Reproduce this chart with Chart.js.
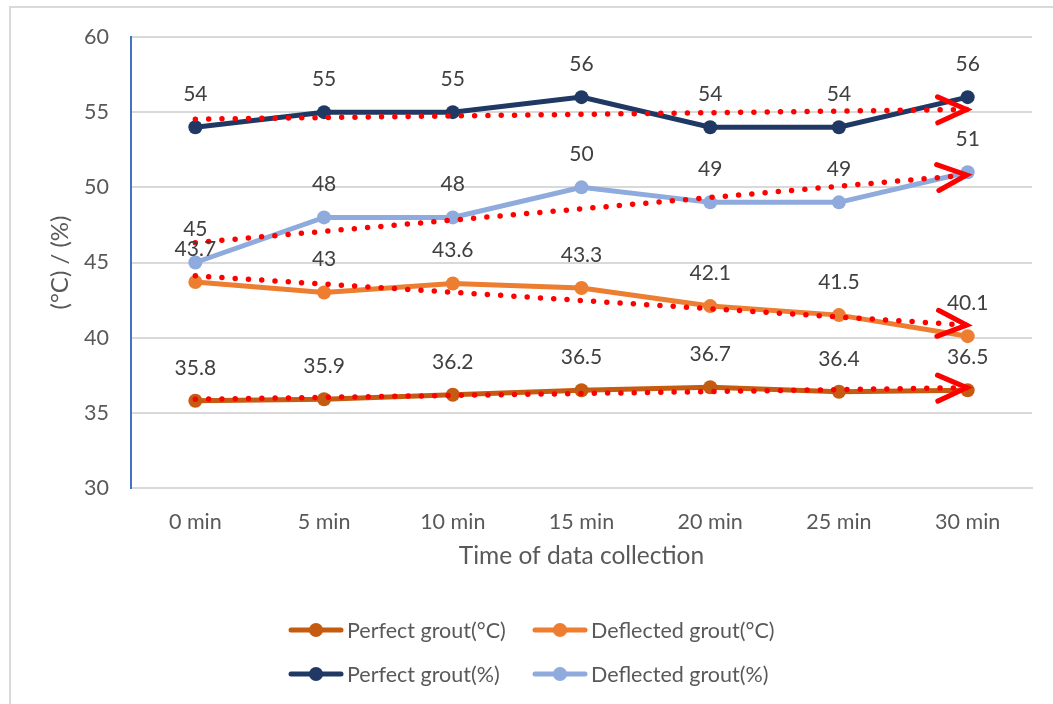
<!DOCTYPE html>
<html>
<head>
<meta charset="utf-8">
<script src="https://cdn.jsdelivr.net/npm/chart.js@4/dist/chart.umd.min.js"></script>
<style>
  html, body { margin: 0; padding: 0; background: #ffffff; }
  #wrap { position: relative; width: 1053px; height: 704px; overflow: hidden; background: #fff; }
  #frame { position: absolute; left: 9px; top: 6px; width: 1200px; height: 800px; border-left: 2px solid #D9D9D9; border-top: 2px solid #D9D9D9; }
  canvas { position: absolute; left: 0; top: 0; }
</style>
</head>
<body>
<div id="wrap">
  <div id="frame"></div>
  <canvas id="c" width="1053" height="704"></canvas>
</div>
<script>
const categories = ['0 min', '5 min', '10 min', '15 min', '20 min', '25 min', '30 min'];
const perfectTemp = [35.8, 35.9, 36.2, 36.5, 36.7, 36.4, 36.5];
const deflectedTemp = [43.7, 43, 43.6, 43.3, 42.1, 41.5, 40.1];
const perfectHum = [54, 55, 55, 56, 54, 54, 56];
const deflectedHum = [45, 48, 48, 50, 49, 49, 51];
const seriesNames = ['Perfect grout(°C)', 'Deflected grout(°C)', 'Perfect grout(%)', 'Deflected grout(%)'];
const seriesColors = ['#C55A11', '#ED7D31', '#1F3864', '#8FAADC'];
const yTicks = [30, 35, 40, 45, 50, 55, 60];

const FONT = 'Lato, "Open Sans", sans-serif';

// Linear trend (least squares) like Excel's linear trendline
function trend(arr) {
  const n = arr.length;
  let sx = 0, sy = 0, sxy = 0, sxx = 0;
  arr.forEach((y, x) => { sx += x; sy += y; sxy += x * y; sxx += x * x; });
  const b = (n * sxy - sx * sy) / (n * sxx - sx * sx);
  const a = (sy - b * sx) / n;
  return arr.map((_, i) => (i === 0 || i === n - 1) ? a + b * i : null);
}

const mainSeries = [perfectTemp, deflectedTemp, perfectHum, deflectedHum];

const datasets = mainSeries.map((d, i) => ({
  label: seriesNames[i],
  data: d,
  borderColor: seriesColors[i],
  backgroundColor: seriesColors[i],
  borderWidth: 5,
  pointRadius: 7,
  pointHoverRadius: 7,
  pointBorderWidth: 0,
  tension: 0,
  order: 1,
  isMain: true
}));
mainSeries.forEach((d, i) => {
  datasets.push({
    label: 'trend' + i,
    data: trend(d),
    spanGaps: true,
    borderColor: '#FF0000',
    borderWidth: 5.5,
    borderDash: [0, 13.3],
    borderCapStyle: 'round',
    pointRadius: 0,
    order: 0,
    isTrend: true
  });
});

const overlay = {
  id: 'overlay',
  afterDatasetsDraw(chart) {
    const ctx = chart.ctx;
    chart.data.datasets.forEach((ds, di) => {
      if (!ds.isTrend) return;
      const meta = chart.getDatasetMeta(di);
      const pts = meta.data;
      const p0 = pts[0], p1 = pts[pts.length - 1];
      const ang = Math.atan2(p1.y - p0.y, p1.x - p0.x);
      const L = 29, W = 13;
      const tipX = p1.x - 1, tipY = p1.y;
      ctx.save();
      ctx.strokeStyle = '#FF0000';
      ctx.lineWidth = 5;
      ctx.lineCap = 'round';
      ctx.lineJoin = 'miter';
      ctx.translate(tipX, tipY);
      ctx.rotate(ang);
      ctx.beginPath();
      ctx.moveTo(-L, -W);
      ctx.lineTo(0, 0);
      ctx.lineTo(-L, W);
      ctx.stroke();
      ctx.restore();
    });
    ctx.save();
    ctx.font = '21px ' + FONT;
    ctx.fillStyle = '#404040';
    ctx.textAlign = 'center';
    ctx.textBaseline = 'middle';
    chart.data.datasets.forEach((ds, di) => {
      if (!ds.isMain) return;
      const meta = chart.getDatasetMeta(di);
      meta.data.forEach((pt, j) => {
        ctx.fillText(String(ds.data[j]), pt.x, pt.y - 33);
      });
    });
    ctx.restore();
  },
  afterDraw(chart) {
    const ctx = chart.ctx;
    const cols = [289, 533];
    const rows = [630, 674];
    ctx.save();
    ctx.font = '21.5px ' + FONT;
    ctx.textBaseline = 'middle';
    ctx.textAlign = 'left';
    for (let i = 0; i < 4; i++) {
      const x = cols[i % 2], y = rows[Math.floor(i / 2)];
      ctx.strokeStyle = seriesColors[i];
      ctx.lineWidth = 5;
      ctx.lineCap = 'round';
      ctx.beginPath();
      ctx.moveTo(x + 2, y);
      ctx.lineTo(x + 52, y);
      ctx.stroke();
      ctx.fillStyle = seriesColors[i];
      ctx.beginPath();
      ctx.arc(x + 27, y, 7, 0, Math.PI * 2);
      ctx.fill();
      ctx.fillStyle = '#595959';
      ctx.fillText(seriesNames[i], x + 58, y + 1);
    }
    ctx.restore();
  }
};

new Chart(document.getElementById('c'), {
  type: 'line',
  data: { labels: categories, datasets },
  options: {
    responsive: false,
    animation: false,
    devicePixelRatio: 1,
    layout: { padding: { top: 37, right: 21, left: 0, bottom: 126 } },
    plugins: { legend: { display: false }, tooltip: { enabled: false } },
    scales: {
      x: {
        offset: true,
        grid: { display: false, drawTicks: false },
        border: { display: true, color: '#D9D9D9', width: 2 },
        ticks: { color: '#595959', font: { family: FONT, size: 21.5 }, padding: 21, maxRotation: 0 },
        title: { display: true, text: 'Time of data collection', color: '#595959', font: { family: FONT, size: 24.5 }, padding: { top: 0, bottom: 7 } },
        afterFit(s) { s.height = 90; }
      },
      y: {
        min: 30, max: 60,
        afterBuildTicks(s) { s.ticks = yTicks.map(v => ({ value: v })); },
        grid: { color: '#D9D9D9', lineWidth: 2, drawTicks: false },
        border: { display: true, color: '#4472C4', width: 2 },
        ticks: { color: '#595959', font: { family: FONT, size: 21.5 }, padding: 22 },
        title: { display: true, text: '(°C) / (%)', color: '#595959', font: { family: FONT, size: 24 }, padding: { top: 46, bottom: 0 } },
        afterFit(s) { s.width = 131; }
      }
    }
  },
  plugins: [overlay]
});
</script>
</body>
</html>
